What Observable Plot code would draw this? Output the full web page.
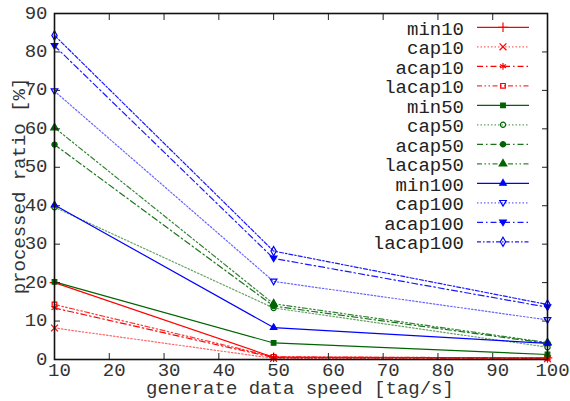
<!DOCTYPE html>
<html>
<head>
<meta charset="utf-8">
<script src="https://cdn.jsdelivr.net/npm/d3@7"></script>
<script src="https://cdn.jsdelivr.net/npm/@observablehq/plot@0.6"></script>
<style>
  html, body { margin: 0; padding: 0; background: white; }
</style>
</head>
<body>
<div id="chart"></div>
<script>
// ---- data ----
const speeds = [10, 50, 100];
const seriesNames = ["min10", "cap10", "acap10", "lacap10", "min50", "cap50", "acap50", "lacap50", "min100", "cap100", "acap100", "lacap100"];
const min10    = [20.0, 0.6, 0.4];
const cap10    = [8.2, 0.3, 0.2];
const acap10   = [13.4, 0.5, 0.3];
const lacap10  = [14.3, 0.7, 0.4];
const min50    = [20.2, 4.3, 1.3];
const cap50    = [39.6, 13.4, 3.2];
const acap50   = [55.9, 13.9, 4.2];
const lacap50  = [60.3, 14.5, 4.4];
const min100   = [40.2, 8.3, 4.2];
const cap100   = [69.8, 20.3, 10.3];
const acap100  = [81.6, 26.3, 13.6];
const lacap100 = [84.3, 28.2, 14.3];
const xTicks = [10, 20, 30, 40, 50, 60, 70, 80, 90, 100];
const yTicks = [0, 10, 20, 30, 40, 50, 60, 70, 80, 90];
const xLabel = "generate data speed [tag/s]";
const yLabel = "processed ratio [%]";

const values = {min10, cap10, acap10, lacap10, min50, cap50, acap50, lacap50, min100, cap100, acap100, lacap100};

// ---- styles ----
const triDown = {
  draw(ctx, size) {
    const s = Math.sqrt(size) * 0.62;
    ctx.moveTo(-s, -s * 0.7);
    ctx.lineTo(s, -s * 0.7);
    ctx.lineTo(0, s * 1.0);
    ctx.closePath();
  }
};
const RED = "#ff0000", GREEN = "#006400", BLUE = "#0000ff";
const DOT = "1.5,2", DASHDOT = "6,3,1.5,3", DASHDOTDOT = "5,2.5,1.5,2.5,1.5,2.5";
const styles = {
  min10:   {color: RED, dash: null, op: 1, symbol: "plus", fill: false, r: 3.2},
  cap10:   {color: RED, dash: DOT, op: 0.6, symbol: "times", fill: false, r: 3.2},
  acap10:  {color: RED, dash: DASHDOT, op: 1, symbol: "asterisk", fill: false, r: 3.2},
  lacap10: {color: RED, dash: DASHDOTDOT, op: 0.8, symbol: "square", fill: false, r: 2.6},
  min50:   {color: GREEN, dash: null, op: 1, symbol: "square", fill: true, r: 2.6},
  cap50:   {color: GREEN, dash: DOT, op: 0.6, symbol: "circle", fill: false, r: 2.6},
  acap50:  {color: GREEN, dash: DASHDOT, op: 0.9, symbol: "circle", fill: true, r: 2.6},
  lacap50: {color: GREEN, dash: DASHDOTDOT, op: 0.8, symbol: "triangle", fill: true, r: 2.8},
  min100:  {color: BLUE, dash: null, op: 1, symbol: "triangle", fill: true, r: 2.4},
  cap100:  {color: BLUE, dash: DOT, op: 0.6, symbol: triDown, fill: false, r: 3.0},
  acap100: {color: BLUE, dash: DASHDOT, op: 0.9, symbol: triDown, fill: true, r: 3.0},
  lacap100:{color: BLUE, dash: "4,2,1.5,2", op: 0.9, symbol: "diamond", fill: false, r: 2.8}
};

const rows = seriesNames.flatMap(name => speeds.map((s, i) => ({name, speed: s, value: values[name][i]})));

const lineMarks = seriesNames.map(name => {
  const st = styles[name];
  return Plot.line(rows.filter(d => d.name === name), {
    x: "speed", y: "value", stroke: st.color, strokeOpacity: st.op,
    strokeWidth: 1.2, strokeDasharray: st.dash || undefined
  });
});
const dotMarks = seriesNames.map(name => {
  const st = styles[name];
  return Plot.dot(rows.filter(d => d.name === name), {
    x: "speed", y: "value", symbol: () => st.symbol, r: st.r,
    stroke: st.color, strokeWidth: 1.2,
    fill: st.fill ? st.color : "none"
  });
});

const FONT = "'Liberation Mono', monospace";
const plot = Plot.plot({
  width: 570, height: 401,
  marginLeft: 54, marginRight: 23, marginTop: 13, marginBottom: 42,
  style: {fontFamily: FONT, fontSize: "19px", background: "white", color: "#222"},
  x: {domain: [10, 100]},
  y: {domain: [0, 90]},
  symbol: {type: "identity"},
  marks: [
    ...lineMarks,
    ...dotMarks,
    Plot.axisX(xTicks, {anchor: "bottom", tickSize: 0, tickPadding: 3, dx: 5, label: null, fontSize: 19, fill: "#333"}),
    Plot.axisY(yTicks, {anchor: "left", tickSize: 0, tickPadding: 7, label: null, fontSize: 19, fill: "#333", dy: -1}),
    Plot.axisX(xTicks, {anchor: "bottom", tickSize: 6, dy: -6, fill: "none", label: null}),
    Plot.axisX(xTicks, {anchor: "top", tickSize: 6, dy: 6, fill: "none", label: null}),
    Plot.axisY(yTicks, {anchor: "left", tickSize: 6, dx: 6, fill: "none", label: null}),
    Plot.axisY(yTicks, {anchor: "right", tickSize: 6, dx: -6, fill: "none", label: null}),
    Plot.frame({stroke: "#111", strokeWidth: 1.6})
  ]
});

const svg = d3.select(plot);

// ---- axis titles ----
svg.append("text").attr("x", 300).attr("y", 393.5).attr("text-anchor", "middle")
  .attr("font-family", FONT).attr("font-size", 19).attr("fill", "#333").text(xLabel);
svg.append("text").attr("transform", "translate(25,186) rotate(-90)").attr("text-anchor", "middle")
  .attr("font-family", FONT).attr("font-size", 19).attr("fill", "#333").text(yLabel);

// ---- legend inside the plot (top right) ----
const lg = svg.append("g").attr("font-family", FONT).attr("font-size", 19);
const symMap = {plus: d3.symbolPlus, times: d3.symbolTimes, asterisk: d3.symbolAsterisk, square: d3.symbolSquare,
  circle: d3.symbolCircle, triangle: d3.symbolTriangle, diamond: d3.symbolDiamond};
seriesNames.forEach((name, i) => {
  const st = styles[name];
  const y = 27.3 + i * 19.5;
  lg.append("text").attr("x", 464).attr("y", y + 7.5).attr("text-anchor", "end").attr("fill", "#222").text(name);
  lg.append("line").attr("x1", 477).attr("x2", 529).attr("y1", y).attr("y2", y)
    .attr("stroke", st.color).attr("stroke-opacity", st.op).attr("stroke-width", 1.2)
    .attr("stroke-dasharray", st.dash);
  const type = typeof st.symbol === "string" ? symMap[st.symbol] : st.symbol;
  lg.append("path").attr("transform", `translate(503,${y})`)
    .attr("d", d3.symbol().type(type).size(Math.PI * st.r * st.r)())
    .attr("stroke", st.color).attr("stroke-width", 1.2)
    .attr("fill", st.fill ? st.color : "none");
});

document.getElementById("chart").appendChild(plot);
</script>
</body>
</html>
